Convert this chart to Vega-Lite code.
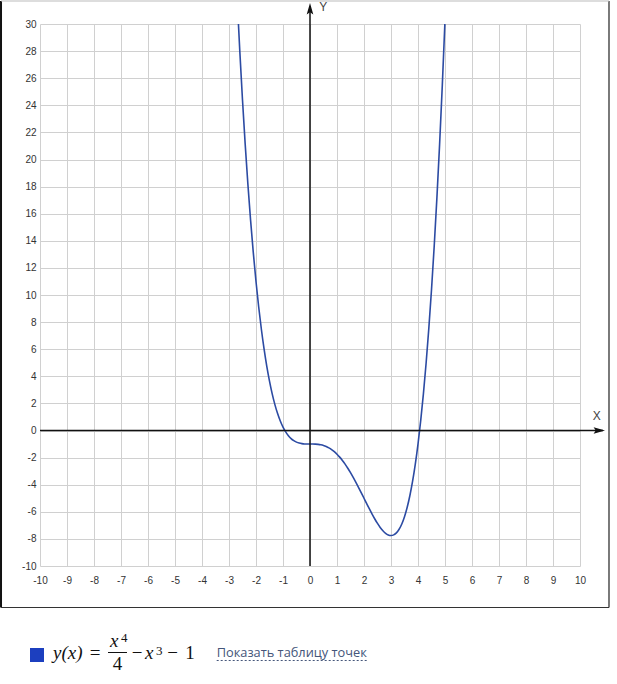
{
  "$schema": "https://vega.github.io/schema/vega-lite/v6.json",
  "description": "Graph of y(x) = x^4/4 - x^3 - 1",
  "width": 540,
  "height": 542,
  "autosize": {"type": "none"},
  "padding": {"left": 40, "top": 24, "right": 37, "bottom": 118},
  "background": "white",
  "data": {"values": [{}]},
  "config": {
    "view": {"stroke": null},
    "axis": {
      "labelFont": "Liberation Sans",
      "labelFontSize": 10,
      "labelColor": "#333",
      "labelOverlap": false,
      "labelFlush": false,
      "labelExpr": "datum.value + ''",
      "gridColor": "#d0d0d0",
      "gridWidth": 1,
      "domain": false,
      "ticks": false,
      "tickSize": 0,
      "tickCount": 20
    },
    "axisX": {"labelPadding": 9},
    "axisY": {"labelPadding": 4}
  },
  "datasets": {
    "curve": [
      {"x": -2.7, "y": 31.969}, {"x": -2.6, "y": 28.0}, {"x": -2.5, "y": 24.391},
      {"x": -2.4, "y": 21.118}, {"x": -2.3, "y": 18.163}, {"x": -2.2, "y": 15.504},
      {"x": -2.1, "y": 13.123}, {"x": -2.0, "y": 11.0}, {"x": -1.9, "y": 9.117},
      {"x": -1.8, "y": 7.456}, {"x": -1.7, "y": 6.001}, {"x": -1.6, "y": 4.734},
      {"x": -1.5, "y": 3.641}, {"x": -1.4, "y": 2.704}, {"x": -1.3, "y": 1.911},
      {"x": -1.2, "y": 1.246}, {"x": -1.1, "y": 0.697}, {"x": -1.0, "y": 0.25},
      {"x": -0.9, "y": -0.107}, {"x": -0.8, "y": -0.386}, {"x": -0.7, "y": -0.597},
      {"x": -0.6, "y": -0.752}, {"x": -0.5, "y": -0.859}, {"x": -0.4, "y": -0.93},
      {"x": -0.3, "y": -0.971}, {"x": -0.2, "y": -0.992}, {"x": -0.1, "y": -0.999},
      {"x": 0.0, "y": -1.0}, {"x": 0.1, "y": -1.001}, {"x": 0.2, "y": -1.008},
      {"x": 0.3, "y": -1.025}, {"x": 0.4, "y": -1.058}, {"x": 0.5, "y": -1.109},
      {"x": 0.6, "y": -1.184}, {"x": 0.7, "y": -1.283}, {"x": 0.8, "y": -1.41},
      {"x": 0.9, "y": -1.565}, {"x": 1.0, "y": -1.75}, {"x": 1.1, "y": -1.965},
      {"x": 1.2, "y": -2.21}, {"x": 1.3, "y": -2.483}, {"x": 1.4, "y": -2.784},
      {"x": 1.5, "y": -3.109}, {"x": 1.6, "y": -3.458}, {"x": 1.7, "y": -3.825},
      {"x": 1.8, "y": -4.208}, {"x": 1.9, "y": -4.601}, {"x": 2.0, "y": -5.0},
      {"x": 2.1, "y": -5.399}, {"x": 2.2, "y": -5.792}, {"x": 2.3, "y": -6.171},
      {"x": 2.4, "y": -6.53}, {"x": 2.5, "y": -6.859}, {"x": 2.6, "y": -7.152},
      {"x": 2.7, "y": -7.397}, {"x": 2.8, "y": -7.586}, {"x": 2.9, "y": -7.707},
      {"x": 3.0, "y": -7.75}, {"x": 3.1, "y": -7.703}, {"x": 3.2, "y": -7.554},
      {"x": 3.3, "y": -7.289}, {"x": 3.4, "y": -6.896}, {"x": 3.5, "y": -6.359},
      {"x": 3.6, "y": -5.666}, {"x": 3.7, "y": -4.799}, {"x": 3.8, "y": -3.744},
      {"x": 3.9, "y": -2.483}, {"x": 4.0, "y": -1.0}, {"x": 4.1, "y": 0.723},
      {"x": 4.2, "y": 2.704}, {"x": 4.3, "y": 4.963}, {"x": 4.4, "y": 7.518},
      {"x": 4.5, "y": 10.391}, {"x": 4.6, "y": 13.6}, {"x": 4.7, "y": 17.169},
      {"x": 4.8, "y": 21.118}, {"x": 4.9, "y": 25.471}, {"x": 5.0, "y": 30.25}
    ]
  },
  "layer": [
    {
      "data": {"name": "curve"},
      "mark": {"type": "line", "clip": true, "interpolate": "monotone", "color": "#2c4ba3", "strokeWidth": 1.6},
      "encoding": {
        "x": {"field": "x", "type": "quantitative", "title": null, "scale": {"domain": [-10, 10], "nice": false, "zero": false}},
        "y": {"field": "y", "type": "quantitative", "title": null, "scale": {"domain": [-10, 30], "nice": false, "zero": false}}
      }
    },
    {
      "mark": {"type": "rule", "clip": false, "color": "#111", "strokeWidth": 1.5},
      "encoding": {"x": {"datum": -10}, "x2": {"datum": 10.85}, "y": {"datum": 0}}
    },
    {
      "mark": {"type": "rule", "clip": false, "color": "#111", "strokeWidth": 1.5},
      "encoding": {"x": {"datum": 0}, "y": {"datum": -10}, "y2": {"datum": 31.3}}
    },
    {
      "mark": {"type": "point", "clip": false, "filled": true, "opacity": 1, "color": "#111", "size": 144, "angle": 90, "shape": "M0,-1L0.55,0.9L0,0.55L-0.55,0.9Z"},
      "encoding": {"x": {"datum": 10.704}, "y": {"datum": 0}}
    },
    {
      "mark": {"type": "point", "clip": false, "filled": true, "opacity": 1, "color": "#111", "size": 144, "shape": "M0,-1L0.55,0.9L0,0.55L-0.55,0.9Z"},
      "encoding": {"x": {"datum": 0}, "y": {"datum": 31.107}}
    },
    {
      "mark": {"type": "text", "clip": false, "text": "X", "font": "Liberation Sans", "fontSize": 12, "color": "#444", "baseline": "middle"},
      "encoding": {"x": {"datum": 10.619}, "y": {"datum": 1.092}}
    },
    {
      "mark": {"type": "text", "clip": false, "text": "Y", "font": "Liberation Sans", "fontSize": 12, "color": "#444", "baseline": "middle"},
      "encoding": {"x": {"datum": 0.494}, "y": {"datum": 31.277}}
    },
    {
      "mark": {"type": "rule", "clip": false, "color": "#111", "strokeWidth": 2},
      "encoding": {"x": {"datum": -11.444}, "y": {"datum": 31.697}, "y2": {"datum": -13.063}}
    },
    {
      "mark": {"type": "rule", "clip": false, "color": "#222", "strokeWidth": 1.2},
      "encoding": {"x": {"datum": 11.074}, "y": {"datum": 31.697}, "y2": {"datum": -13.063}}
    },
    {
      "mark": {"type": "rule", "clip": false, "color": "#bbb", "strokeWidth": 1.2},
      "encoding": {"x": {"datum": -11.444}, "x2": {"datum": 11.074}, "y": {"datum": 31.697}}
    },
    {
      "mark": {"type": "rule", "clip": false, "color": "#333", "strokeWidth": 1.2},
      "encoding": {"x": {"datum": -11.444}, "x2": {"datum": 11.074}, "y": {"datum": -13.063}}
    },
    {
      "mark": {"type": "point", "clip": false, "shape": "square", "filled": true, "opacity": 1, "color": "#1c3fbf", "size": 196},
      "encoding": {"x": {"datum": -10.111}, "y": {"datum": -16.568}}
    },
    {
      "mark": {"type": "text", "clip": false, "text": "y(x)", "font": "Liberation Serif", "fontStyle": "italic", "fontSize": 19, "color": "#111", "align": "left", "baseline": "alphabetic"},
      "encoding": {"x": {"datum": -9.519}, "y": {"datum": -16.863}}
    },
    {
      "mark": {"type": "text", "clip": false, "text": "=", "font": "Liberation Serif", "fontSize": 19, "color": "#111", "align": "center", "baseline": "alphabetic"},
      "encoding": {"x": {"datum": -7.963}, "y": {"datum": -16.863}}
    },
    {
      "mark": {"type": "text", "clip": false, "text": "x", "font": "Liberation Serif", "fontStyle": "italic", "fontSize": 19, "color": "#111", "align": "left", "baseline": "alphabetic"},
      "encoding": {"x": {"datum": -7.407}, "y": {"datum": -15.978}}
    },
    {
      "mark": {"type": "text", "clip": false, "text": "4", "font": "Liberation Serif", "fontSize": 13, "color": "#111", "align": "left", "baseline": "alphabetic"},
      "encoding": {"x": {"datum": -7.0}, "y": {"datum": -15.609}}
    },
    {
      "mark": {"type": "rule", "clip": false, "color": "#111", "strokeWidth": 1},
      "encoding": {"x": {"datum": -7.481}, "x2": {"datum": -6.778}, "y": {"datum": -16.384}}
    },
    {
      "mark": {"type": "text", "clip": false, "text": "4", "font": "Liberation Serif", "fontSize": 19, "color": "#111", "align": "center", "baseline": "alphabetic"},
      "encoding": {"x": {"datum": -7.13}, "y": {"datum": -17.675}}
    },
    {
      "mark": {"type": "text", "clip": false, "text": "−", "font": "Liberation Serif", "fontSize": 19, "color": "#111", "align": "center", "baseline": "alphabetic"},
      "encoding": {"x": {"datum": -6.407}, "y": {"datum": -16.863}}
    },
    {
      "mark": {"type": "text", "clip": false, "text": "x", "font": "Liberation Serif", "fontStyle": "italic", "fontSize": 19, "color": "#111", "align": "left", "baseline": "alphabetic"},
      "encoding": {"x": {"datum": -6.111}, "y": {"datum": -16.863}}
    },
    {
      "mark": {"type": "text", "clip": false, "text": "3", "font": "Liberation Serif", "fontSize": 13, "color": "#111", "align": "left", "baseline": "alphabetic"},
      "encoding": {"x": {"datum": -5.704}, "y": {"datum": -16.568}}
    },
    {
      "mark": {"type": "text", "clip": false, "text": "−", "font": "Liberation Serif", "fontSize": 19, "color": "#111", "align": "center", "baseline": "alphabetic"},
      "encoding": {"x": {"datum": -5.093}, "y": {"datum": -16.863}}
    },
    {
      "mark": {"type": "text", "clip": false, "text": "1", "font": "Liberation Serif", "fontSize": 19, "color": "#111", "align": "center", "baseline": "alphabetic"},
      "encoding": {"x": {"datum": -4.444}, "y": {"datum": -16.863}}
    },
    {
      "mark": {"type": "text", "clip": false, "text": "Показать таблицу точек", "font": "Open Sans", "fontSize": 12.8, "color": "#44557a", "align": "left", "baseline": "alphabetic"},
      "encoding": {"x": {"datum": -3.456}, "y": {"datum": -16.716}}
    },
    {
      "mark": {"type": "rule", "clip": false, "color": "#44557a", "strokeWidth": 1, "strokeDash": [2, 2]},
      "encoding": {"x": {"datum": -3.456}, "x2": {"datum": 2.148}, "y": {"datum": -16.974}}
    }
  ]
}
